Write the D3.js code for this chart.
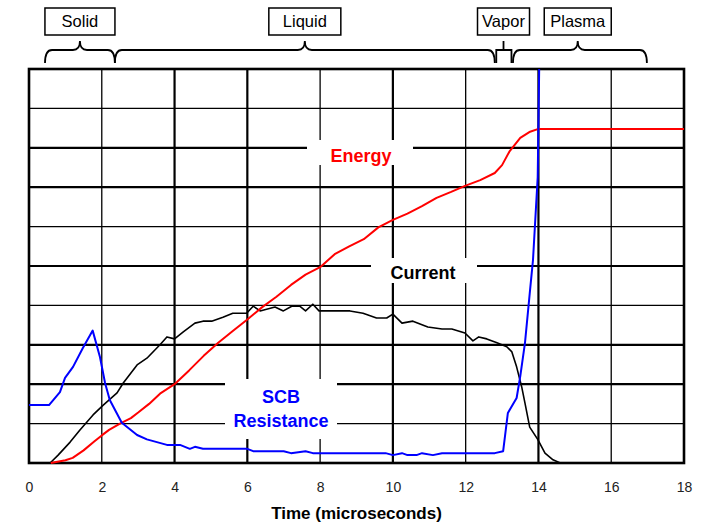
<!DOCTYPE html>
<html>
<head>
<meta charset="utf-8">
<script src="https://cdn.jsdelivr.net/npm/d3@7"></script>
<style>
  html, body { margin: 0; padding: 0; background: #fff; }
  svg { display: block; font-family: "Liberation Sans", Arial, sans-serif; }
</style>
</head>
<body>
<svg id="chart" width="704" height="523"></svg>
<script>
/* ── Data ─────────────────────────────────────────────────────── */
const xTicks = [0, 2, 4, 6, 8, 10, 12, 14, 16, 18];

// [time (µs), relative value]
const energy = [
  [0.6, 0], [1.0, 0.07], [1.2, 0.13], [1.5, 0.32], [1.8, 0.55], [2.0, 0.7],
  [2.2, 0.84], [2.5, 1.0], [2.8, 1.14], [3.0, 1.28], [3.3, 1.5], [3.6, 1.76],
  [4.0, 2.0], [4.4, 2.35], [4.8, 2.72], [5.2, 3.05], [5.6, 3.35], [6.0, 3.64],
  [6.4, 3.95], [6.8, 4.22], [7.2, 4.52], [7.6, 4.78], [8.0, 4.97], [8.4, 5.3],
  [8.8, 5.5], [9.2, 5.68], [9.6, 5.98], [10.0, 6.17], [10.4, 6.33], [10.8, 6.52],
  [11.2, 6.73], [11.6, 6.88], [12.0, 7.04], [12.4, 7.18], [12.8, 7.36],
  [13.0, 7.56], [13.2, 7.9], [13.5, 8.25], [13.75, 8.4], [14.0, 8.48], [18, 8.48]
];

const current = [
  [0.58, 0], [0.8, 0.2], [1.13, 0.53], [1.4, 0.84], [1.76, 1.22], [2.04, 1.47],
  [2.42, 1.78], [2.59, 2.03], [2.97, 2.49], [3.24, 2.66], [3.6, 3.0], [3.79, 3.2],
  [4.0, 3.15], [4.24, 3.33], [4.56, 3.55], [4.78, 3.6], [5.02, 3.6], [5.33, 3.7],
  [5.6, 3.8], [5.98, 3.8], [6.16, 3.98], [6.35, 3.86], [6.76, 3.96], [6.99, 3.86],
  [7.22, 3.98], [7.44, 3.98], [7.6, 3.86], [7.8, 4.03], [7.97, 3.86], [8.82, 3.86],
  [9.18, 3.8], [9.55, 3.68], [9.83, 3.68], [10.0, 3.78], [10.25, 3.55], [10.55, 3.6],
  [10.96, 3.45], [11.35, 3.4], [11.62, 3.4], [11.98, 3.3], [12.2, 3.1], [12.36, 3.2],
  [12.58, 3.15], [12.86, 3.05], [13.13, 2.95], [13.27, 2.82], [13.4, 2.44],
  [13.54, 1.93], [13.63, 1.52], [13.76, 0.91], [13.98, 0.6], [14.18, 0.25],
  [14.4, 0.08], [14.6, 0]
];

const resistance = [
  [0, 1.47], [0.55, 1.47], [0.85, 1.8], [0.99, 2.16], [1.21, 2.44], [1.48, 2.92],
  [1.75, 3.36], [1.95, 2.69], [2.09, 2.03], [2.22, 1.6], [2.55, 1.02], [2.97, 0.71],
  [3.24, 0.6], [3.79, 0.46], [4.15, 0.46], [4.42, 0.36], [4.56, 0.41], [4.78, 0.36],
  [6.0, 0.36], [6.16, 0.3], [7.0, 0.3], [7.2, 0.25], [7.6, 0.3], [7.8, 0.25],
  [9.8, 0.25], [10.0, 0.2], [10.25, 0.25], [10.4, 0.2], [10.65, 0.2], [10.8, 0.25],
  [11.1, 0.2], [11.35, 0.25], [12.8, 0.25], [13.03, 0.3], [13.16, 1.27],
  [13.4, 1.65], [13.5, 2.2], [13.63, 3.05], [13.76, 4.3], [13.85, 5.15],
  [13.98, 7.26], [14.02, 10]
];

// phases: name, start, end, brace tip (µs)
const phaseNames = ["Solid", "Liquid", "Vapor", "Plasma"];
const phaseStart = [0.44, 2.36, 12.8, 13.3];
const phaseEnd   = [2.36, 12.8, 13.3, 16.98];
const phaseTip   = [1.4, 7.58, 13.04, 15.08];

/* ── Layout ───────────────────────────────────────────────────── */
const svg = d3.select("#chart");
const x = d3.scaleLinear().domain([0, 18]).range([29, 684]);
const y = d3.scaleLinear().domain([0, 10]).range([463, 69]);

const thickV = [4, 6, 10, 14];
const thickH = [2, 3, 5, 7, 8];
const boxW = [70, 72, 52, 67];

/* ── Grid ─────────────────────────────────────────────────────── */
const grid = svg.append("g").attr("stroke", "#000");
grid.selectAll("line.v").data(d3.range(2, 18, 2)).join("line")
  .attr("x1", d => x(d)).attr("x2", d => x(d))
  .attr("y1", y(0)).attr("y2", y(10))
  .attr("stroke-width", d => thickV.includes(d) ? 2.2 : 1.3);
grid.selectAll("line.h").data(d3.range(1, 10)).join("line")
  .attr("x1", x(0)).attr("x2", x(18))
  .attr("y1", d => y(d)).attr("y2", d => y(d))
  .attr("stroke-width", d => thickH.includes(d) ? 2.2 : 1.3);

/* ── Label knock-outs ─────────────────────────────────────────── */
const labels = [
  { lines: ["Energy"], color: "#ff0000", cx: 361, base: [162], box: [307, 140, 106, 25] },
  { lines: ["Current"], color: "#000", cx: 423, base: [279], box: [371, 258, 106, 25] },
  { lines: ["SCB", "Resistance"], color: "#0000ff", cx: 281, base: [403, 427], box: [225, 379, 112, 60] }
];
svg.append("g").selectAll("rect").data(labels).join("rect")
  .attr("x", d => d.box[0]).attr("y", d => d.box[1])
  .attr("width", d => d.box[2]).attr("height", d => d.box[3])
  .attr("fill", "#fff");

/* ── Border ───────────────────────────────────────────────────── */
svg.append("rect")
  .attr("x", x(0)).attr("y", y(10))
  .attr("width", x(18) - x(0)).attr("height", y(0) - y(10))
  .attr("fill", "none").attr("stroke", "#000").attr("stroke-width", 2.6);

/* ── Series ───────────────────────────────────────────────────── */
const line = d3.line().x(d => x(d[0])).y(d => y(d[1]));
[
  { data: current, color: "#000", w: 1.6 },
  { data: energy, color: "#ff0000", w: 2 },
  { data: resistance, color: "#0000ff", w: 2 }
].forEach(s => {
  svg.append("path").datum(s.data)
    .attr("d", line)
    .attr("fill", "none")
    .attr("stroke", s.color)
    .attr("stroke-width", s.w)
    .attr("stroke-linejoin", "round");
});

/* ── Label text ───────────────────────────────────────────────── */
labels.forEach(l => {
  l.lines.forEach((t, i) => {
    svg.append("text")
      .attr("x", l.cx).attr("y", l.base[i])
      .attr("text-anchor", "middle")
      .attr("font-size", 18).attr("font-weight", "bold")
      .attr("fill", l.color)
      .text(t);
  });
});

/* ── Axis ─────────────────────────────────────────────────────── */
const axis = svg.append("g")
  .attr("transform", `translate(0,${y(0)})`)
  .call(d3.axisBottom(x).tickValues(xTicks).tickSize(0).tickPadding(19));
axis.select(".domain").remove();
axis.selectAll("text").attr("font-size", 14).attr("fill", "#222")
  .attr("font-family", "\"Liberation Sans\", Arial, sans-serif");

svg.append("text")
  .attr("x", (x(0) + x(18)) / 2).attr("y", 519)
  .attr("text-anchor", "middle")
  .attr("font-size", 17).attr("font-weight", "bold")
  .text("Time (microseconds)");

/* ── Phase braces ─────────────────────────────────────────────── */
const yEnd = 63, yBar = 50, yTip = 41, r = 7;
function bracePath(a, b, m) {
  return `M${a},${yEnd} Q${a},${yBar} ${a + r},${yBar} L${m - r},${yBar} ` +
         `Q${m},${yBar} ${m},${yTip} Q${m},${yBar} ${m + r},${yBar} ` +
         `L${b - r},${yBar} Q${b},${yBar} ${b},${yEnd}`;
}
function bracketPath(a, b, m) {
  return `M${a},${yEnd} L${a},${yBar} L${b},${yBar} L${b},${yEnd} M${m},${yBar} L${m},${yTip}`;
}

const phases = svg.append("g");
phaseNames.forEach((name, i) => {
  const a = x(phaseStart[i]), b = x(phaseEnd[i]), m = x(phaseTip[i]);
  phases.append("path")
    .attr("d", b - a < 30 ? bracketPath(a + 1.5, b - 1.5, m) : bracePath(a, b, m))
    .attr("fill", "none").attr("stroke", "#000").attr("stroke-width", 1.8);
  phases.append("rect")
    .attr("x", m - boxW[i] / 2).attr("y", 8)
    .attr("width", boxW[i]).attr("height", 27)
    .attr("fill", "#fff").attr("stroke", "#000").attr("stroke-width", 1.5);
  phases.append("text")
    .attr("x", m).attr("y", 27)
    .attr("text-anchor", "middle")
    .attr("font-size", 16.5)
    .text(name);
});
</script>
</body>
</html>
